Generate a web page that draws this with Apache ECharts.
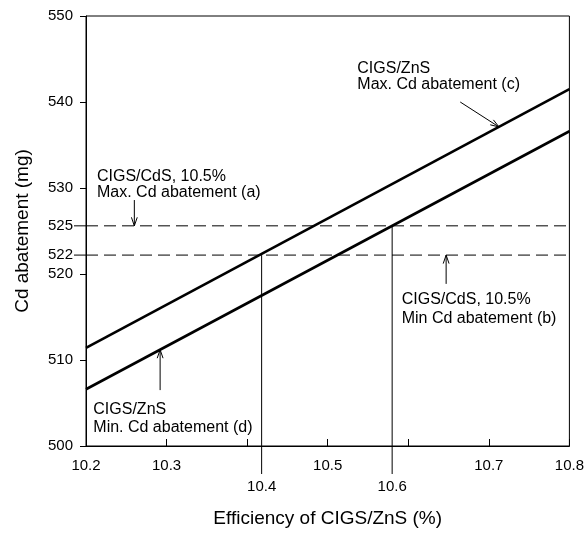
<!DOCTYPE html>
<html>
<head>
<meta charset="utf-8">
<script src="https://cdn.jsdelivr.net/npm/echarts@6/dist/echarts.min.js"></script>
<style>
html,body{margin:0;padding:0;background:#fff;}
#chart{width:587px;height:533px;}
</style>
</head>
<body>
<div id="chart"></div>
<script>
// ---- data ----
const lineX = [10.2, 10.8];
const maxZnS = [511.4, 541.5];   // CIGS/ZnS Max. Cd abatement (c)
const minZnS = [506.6, 536.6];   // CIGS/ZnS Min. Cd abatement (d)
const cdsLevels = [525.6, 522.2]; // CIGS/CdS 10.5% max (a) / min (b)
const cdsLabels = ['525', '522'];
const crossX = [10.418, 10.58];
const crossY = [522.2, 525.6];
const crossLabels = ['10.4', '10.6'];
const hiddenXLabels = ['10.4', '10.6'];
const arrowFrom = [[10.26, 528.6], [10.647, 518.85], [10.6645, 540.0], [10.292, 506.5]];
const arrowTo   = [[10.26, 525.6], [10.647, 522.2], [10.7126, 537.1], [10.292, 511.2]];
const annotations = [
  ['CIGS/CdS, 10.5%', 'Max. Cd abatement (a)'],
  ['CIGS/CdS, 10.5%', 'Min Cd abatement (b)'],
  ['CIGS/ZnS', 'Max. Cd abatement (c)'],
  ['CIGS/ZnS', 'Min. Cd abatement (d)']
];

// ---- layout ----
const FONT = "'Liberation Sans', Arial, sans-serif";
const annPos = [
  [97, 177, 193],
  [401.7, 300, 319],
  [357.3, 68.7, 84.5],
  [93.3, 410, 427.3]
];

const chart = echarts.init(document.getElementById('chart'), null, {renderer: 'canvas'});

const graphics = [];
annotations.forEach((a, i) => {
  const p = annPos[i];
  graphics.push({type: 'text', x: p[0], y: p[1], style: {text: a[0], font: '16px ' + FONT, fill: '#000', textAlign: 'left', textVerticalAlign: 'middle'}});
  graphics.push({type: 'text', x: p[0], y: p[2], style: {text: a[1], font: '16px ' + FONT, fill: '#000', textAlign: 'left', textVerticalAlign: 'middle'}});
});

const option = {
  animation: false,
  backgroundColor: '#fff',
  grid: {left: 86, right: 14, top: 16, bottom: 82, show: true, borderColor: '#000', borderWidth: 1, backgroundColor: 'transparent'},
  xAxis: {
    type: 'value', min: 10.2, max: 10.8, interval: 0.1,
    name: 'Efficiency of CIGS/ZnS (%)', nameLocation: 'middle', nameGap: 63,
    nameTextStyle: {fontSize: 19, fontFamily: FONT, color: '#000'},
    axisLine: {show: true, lineStyle: {color: '#000', width: 1}},
    axisTick: {show: true, inside: true, length: 7, lineStyle: {color: '#000'}},
    axisLabel: {
      margin: 12, fontSize: 15, fontFamily: FONT, color: '#000',
      formatter: v => { const s = (+v).toFixed(1); return hiddenXLabels.indexOf(s) >= 0 ? '' : s; }
    },
    splitLine: {show: false}
  },
  yAxis: {
    type: 'value', min: 500, max: 550, interval: 10,
    name: 'Cd abatement (mg)', nameLocation: 'middle', nameGap: 54,
    nameTextStyle: {fontSize: 19, fontFamily: FONT, color: '#000'},
    axisLine: {show: true, lineStyle: {color: '#000', width: 1}},
    axisTick: {show: true, inside: false, length: 6, lineStyle: {color: '#000'}},
    axisLabel: {margin: 13, fontSize: 15, fontFamily: FONT, color: '#000'},
    splitLine: {show: false}
  },
  graphic: graphics,
  series: [
    {
      type: 'line', data: lineX.map((x, i) => [x, maxZnS[i]]),
      showSymbol: false, lineStyle: {color: '#000', width: 2.6}, z: 5
    },
    {
      type: 'line', data: lineX.map((x, i) => [x, minZnS[i]]),
      showSymbol: false, lineStyle: {color: '#000', width: 2.6}, z: 5
    },
    {
      // CIGS/CdS dashed reference levels
      type: 'custom', coordinateSystem: 'cartesian2d', clip: false, z: 3,
      data: cdsLevels.map(v => [10.2, v]),
      renderItem: (params, api) => {
        const y = api.value(1);
        const p0 = api.coord([10.2, y]);
        const p1 = api.coord([10.8, y]);
        return {type: 'group', children: [
          {type: 'line', shape: {x1: p0[0] - 12, y1: p0[1], x2: p0[0], y2: p0[1]}, style: {stroke: '#000', lineWidth: 1}},
          {type: 'line', shape: {x1: p0[0], y1: p0[1], x2: p1[0], y2: p1[1]}, style: {stroke: '#000', lineWidth: 1, lineDash: [12, 6]}},
          {type: 'text', style: {x: p0[0] - 13, y: p0[1], text: cdsLabels[params.dataIndex], font: '15px ' + FONT, fill: '#000', textAlign: 'right', textVerticalAlign: 'middle'}}
        ]};
      }
    },
    {
      // vertical drop lines from intersections
      type: 'custom', coordinateSystem: 'cartesian2d', clip: false, z: 3,
      data: crossX.map((x, i) => [x, crossY[i]]),
      renderItem: (params, api) => {
        const x = api.value(0), y = api.value(1);
        const top = api.coord([x, y]);
        const bot = api.coord([x, 500]);
        return {type: 'group', children: [
          {type: 'line', shape: {x1: top[0], y1: top[1], x2: bot[0], y2: bot[1] + 28}, style: {stroke: '#000', lineWidth: 1}},
          {type: 'text', style: {x: bot[0], y: bot[1] + 41, text: crossLabels[params.dataIndex], font: '15px ' + FONT, fill: '#000', textAlign: 'center', textVerticalAlign: 'middle'}}
        ]};
      }
    },
    {
      // annotation arrows
      type: 'custom', coordinateSystem: 'cartesian2d', clip: false, z: 4,
      data: arrowFrom.map((f, i) => [f[0], f[1], arrowTo[i][0], arrowTo[i][1]]),
      renderItem: (params, api) => {
        const a = api.coord([api.value(0), api.value(1)]);
        const b = api.coord([api.value(2), api.value(3)]);
        const ang = Math.atan2(b[1] - a[1], b[0] - a[0]);
        const L = 9, w = 0.33;
        const h1 = [b[0] - L * Math.cos(ang - w), b[1] - L * Math.sin(ang - w)];
        const h2 = [b[0] - L * Math.cos(ang + w), b[1] - L * Math.sin(ang + w)];
        return {type: 'group', children: [
          {type: 'line', shape: {x1: a[0], y1: a[1], x2: b[0], y2: b[1]}, style: {stroke: '#000', lineWidth: 1}},
          {type: 'polyline', shape: {points: [h1, b, h2]}, style: {stroke: '#000', lineWidth: 1, fill: null}}
        ]};
      }
    }
  ]
};
chart.setOption(option);
</script>
</body>
</html>
